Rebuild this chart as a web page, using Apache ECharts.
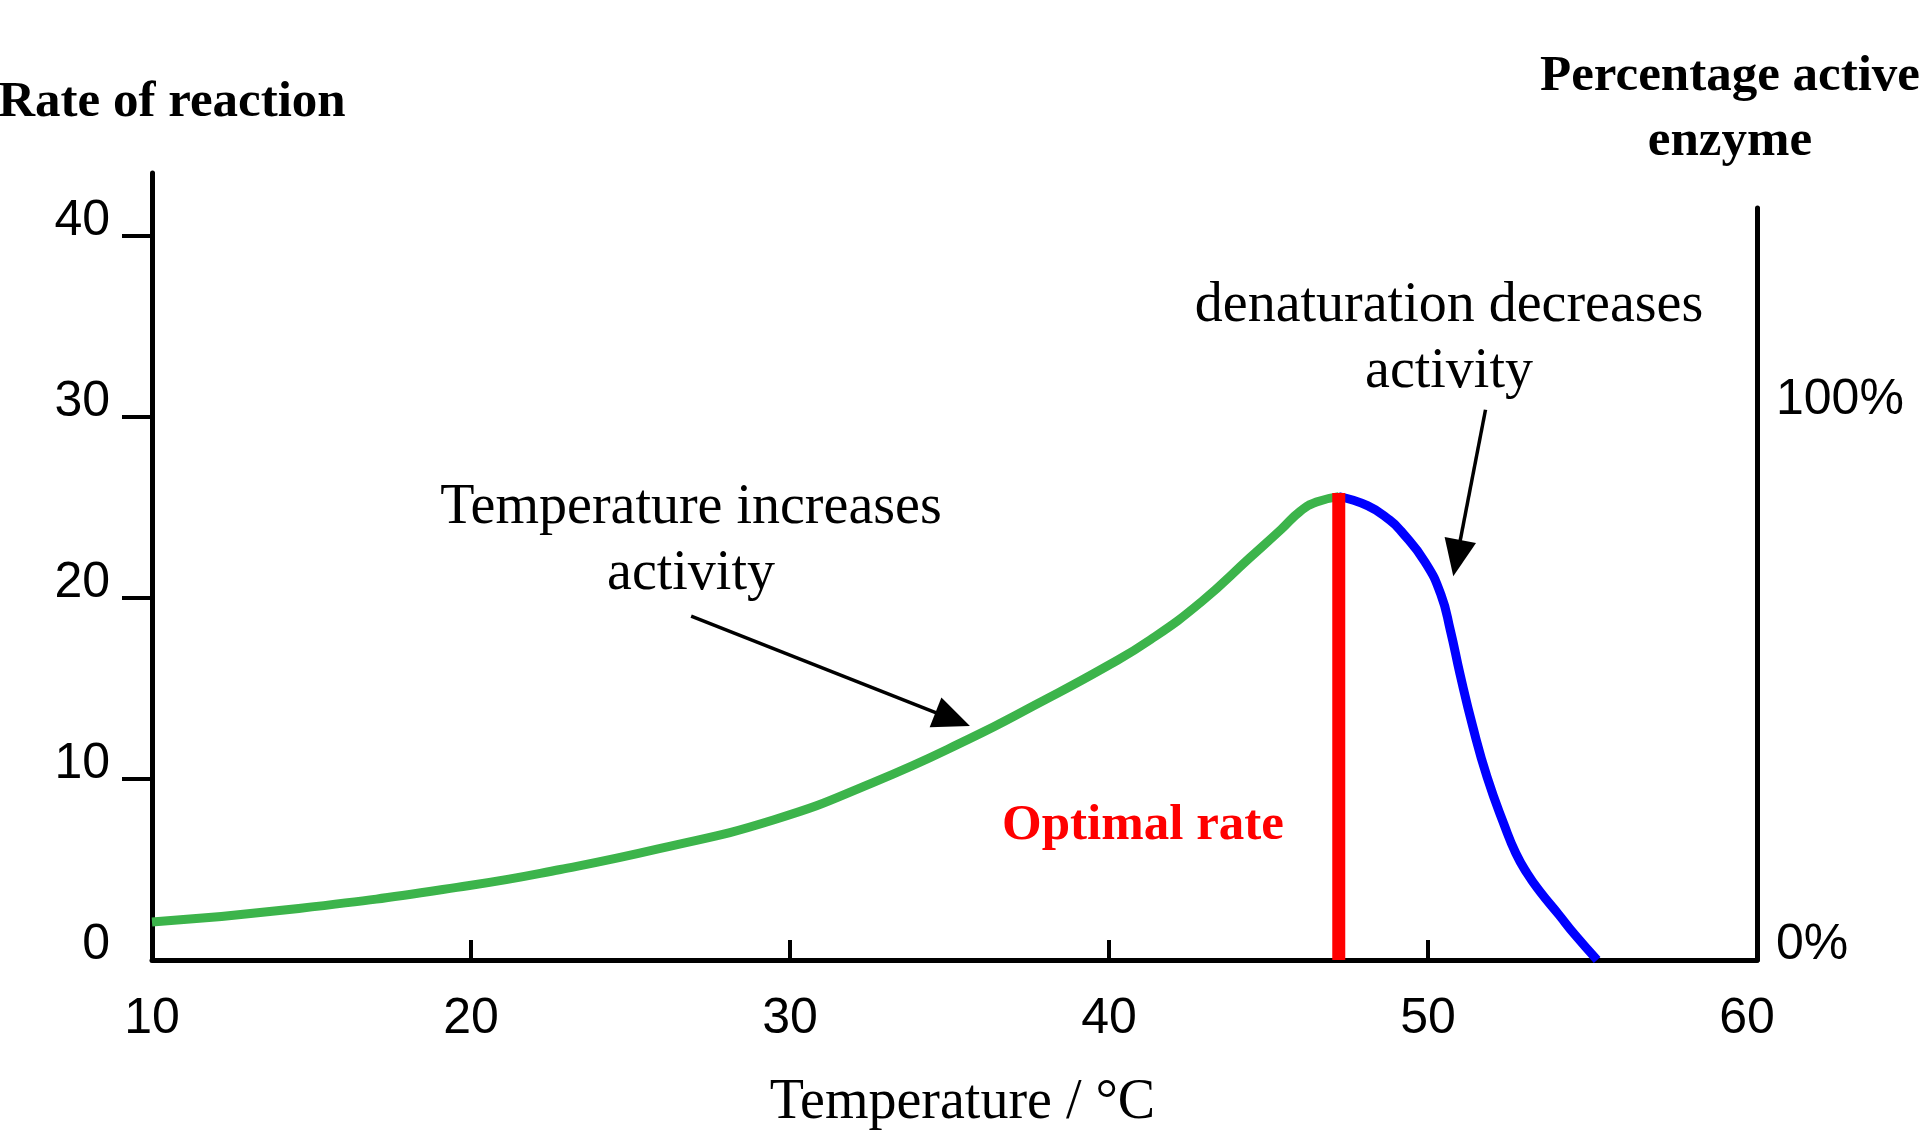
<!DOCTYPE html>
<html>
<head>
<meta charset="utf-8">
<title>Enzyme activity vs temperature</title>
<script src="https://cdn.jsdelivr.net/npm/echarts@6/dist/echarts.min.js"></script>
<style>
  html, body { margin: 0; padding: 0; background: #fff; }
  #chart { width: 1920px; height: 1130px; }
</style>
</head>
<body>
<div id="chart"></div>
<script>
// values
const tempRise = [10, 14.6, 19.9, 22.8, 25.9, 29.5, 32.6, 35.6, 37.8, 39.9, 41.3, 42.9, 44.4, 45.4, 46.0, 46.5, 47.2]
const rateRise = [2.1, 2.85, 4.1, 5.0, 6.15, 7.75, 9.8, 12.2, 14.2, 16.2, 17.7, 19.8, 22.2, 23.8, 24.8, 25.3, 25.6]

const tempFall = [47.2, 48.1, 48.8, 49.15, 49.9, 50.4, 50.7, 51.0, 51.4, 51.85, 52.4, 52.75, 53.1, 53.5, 54.1, 54.6, 55.3]
const rateFall = [25.6, 25.1, 24.3, 23.7, 22.0, 20.2, 18.2, 15.8, 12.9, 10.1, 7.4, 5.9, 4.8, 3.8, 2.5, 1.4, 0]

const optimalTemp = 47.2
const optimalRate = [0, 25.8]

const xTickLabels = [10, 20, 30, 40, 50, 60]
const yTickLabels = [0, 10, 20, 30, 40]
const pctTickLabels = [0, 100]

// arrow annotations: [from, to] in data units
const arrowRise = [[26.9, 19.0], [35.1, 13.3]]
const arrowFall = [[51.8, 30.4], [50.9, 22.2]]

const serif = '"Liberation Serif", "DejaVu Serif", serif'
const sans = '"Liberation Sans", Arial, sans-serif'

const zip = (xs, ys) => xs.map((x, i) => [x, ys[i]])

const chart = echarts.init(document.getElementById('chart'))

chart.setOption({
  backgroundColor: '#fff',
  animation: false,
  grid: [
    { left: 152, right: 163, top: 173, bottom: 170, containLabel: false, outerBoundsMode: 'none' },
    { left: 152, right: 163, top: 208, bottom: 170, containLabel: false, outerBoundsMode: 'none' }
  ],
  xAxis: [
    {
      type: 'value',
      gridIndex: 0,
      min: 10,
      max: 60.31,
      name: 'Temperature / °C',
      nameLocation: 'middle',
      nameGap: 115,
      nameTextStyle: { fontFamily: serif, fontSize: 56, color: '#000', padding: [0, 0, 0, 16] },
      axisLine: { lineStyle: { color: '#000', width: 5 } },
      axisTick: {
        show: true,
        inside: true,
        length: 20,
        customValues: [20, 30, 40, 50],
        lineStyle: { color: '#000', width: 4 }
      },
      axisLabel: {
        customValues: xTickLabels,
        fontFamily: sans,
        fontSize: 50,
        color: '#000',
        margin: 34
      },
      splitLine: { show: false }
    },
    {
      type: 'value',
      gridIndex: 1,
      min: 10,
      max: 60.31,
      show: false
    }
  ],
  yAxis: [
    {
      type: 'value',
      gridIndex: 0,
      min: 0,
      max: 43.48,
      name: 'Rate of reaction',
      nameLocation: 'end',
      nameGap: 45,
      nameTextStyle: {
        fontFamily: serif, fontSize: 51, fontWeight: 'bold', color: '#000',
        padding: [0, 0, 0, 40]
      },
      axisLine: { show: true, lineStyle: { color: '#000', width: 5 } },
      axisTick: {
        show: true,
        length: 30,
        customValues: [10, 20, 30, 40],
        lineStyle: { color: '#000', width: 4 }
      },
      axisLabel: {
        customValues: yTickLabels,
        fontFamily: sans,
        fontSize: 50,
        color: '#000',
        margin: 42,
        verticalAlign: 'bottom',
        lineHeight: 30
      },
      splitLine: { show: false }
    },
    {
      type: 'value',
      gridIndex: 1,
      position: 'right',
      min: 0,
      max: 138,
      name: 'Percentage active\nenzyme',
      nameLocation: 'end',
      nameGap: 34,
      nameTextStyle: {
        fontFamily: serif, fontSize: 51, fontWeight: 'bold', color: '#000',
        lineHeight: 65,
        padding: [0, 54, 0, 0]
      },
      axisLine: { show: true, lineStyle: { color: '#000', width: 5 } },
      axisTick: { show: false },
      axisLabel: {
        customValues: pctTickLabels,
        formatter: '{value}%',
        fontFamily: sans,
        fontSize: 50,
        color: '#000',
        margin: 19,
        verticalAlign: 'bottom',
        lineHeight: 30
      },
      splitLine: { show: false }
    }
  ],
  graphic: [
    {
      type: 'text',
      style: {
        text: 'Temperature increases\nactivity',
        x: 691, y: 541,
        align: 'center', verticalAlign: 'middle',
        font: '56px ' + serif,
        lineHeight: 66,
        fill: '#000'
      }
    },
    {
      type: 'text',
      style: {
        text: 'denaturation decreases\nactivity',
        x: 1449, y: 339,
        align: 'center', verticalAlign: 'middle',
        font: '56px ' + serif,
        lineHeight: 66,
        fill: '#000'
      }
    },
    {
      type: 'text',
      style: {
        text: 'Optimal rate',
        x: 1143, y: 826,
        align: 'center', verticalAlign: 'middle',
        font: 'bold 51px ' + serif,
        fill: '#ff0000'
      }
    }
  ],
  series: [
    {
      name: 'rise',
      type: 'line',
      xAxisIndex: 0,
      yAxisIndex: 0,
      data: zip(tempRise, rateRise),
      smooth: 0.5,
      symbol: 'none',
      lineStyle: { color: '#3cb44b', width: 9 },
      markLine: {
        silent: true,
        symbol: ['none', 'triangle'],
        symbolSize: [32, 37],
        label: { show: false },
        lineStyle: { color: '#000', width: 3.5, type: 'solid' },
        data: [
          [{ coord: arrowRise[0] }, { coord: arrowRise[1] }],
          [{ coord: arrowFall[0] }, { coord: arrowFall[1] }]
        ]
      }
    },
    {
      name: 'fall',
      type: 'line',
      xAxisIndex: 0,
      yAxisIndex: 0,
      data: zip(tempFall, rateFall),
      smooth: 0.5,
      symbol: 'none',
      lineStyle: { color: '#0000ff', width: 9 }
    },
    {
      name: 'optimal',
      type: 'line',
      xAxisIndex: 0,
      yAxisIndex: 0,
      data: optimalRate.map(v => [optimalTemp, v]),
      symbol: 'none',
      lineStyle: { color: '#ff0000', width: 13, cap: 'butt' }
    }
  ]
})
</script>
</body>
</html>
